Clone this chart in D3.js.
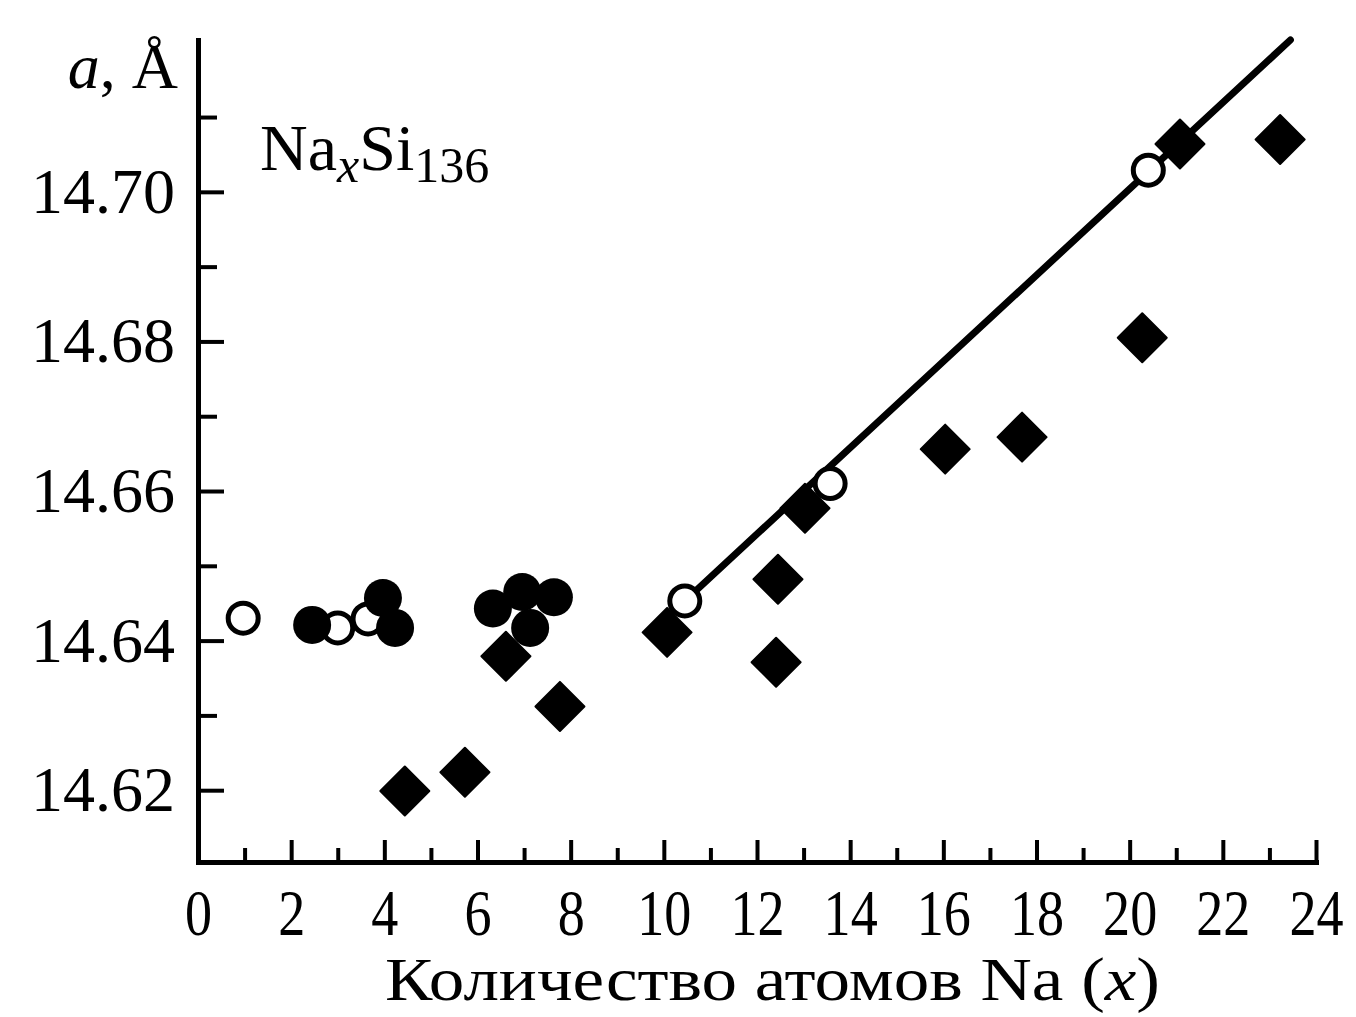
<!DOCTYPE html>
<html>
<head>
<meta charset="utf-8">
<script src="https://cdn.jsdelivr.net/npm/d3@7"></script>
<style>
  body { margin: 0; background: #fff; }
  svg text { font-family: "Liberation Serif", "Times New Roman", serif; fill: #000; }
</style>
</head>
<body>
<div id="chart"></div>
<script>
// open circles (on the fitted line and near x = 1..4)
var openX = [0.97, 3.0, 3.65, 10.45, 13.57, 20.4];
var openY = [14.643, 14.6417, 14.6429, 14.6453, 14.661, 14.7029];
// filled circles
var dotX = [2.45, 3.97, 4.23, 6.33, 6.96, 7.64, 7.13];
var dotY = [14.6421, 14.6457, 14.6417, 14.6443, 14.6465, 14.6458, 14.6417];
// filled diamonds
var diaX = [4.44, 5.73, 6.61, 7.77, 10.07, 12.45, 12.41, 13.03, 16.04, 17.69, 20.27, 21.08, 23.23];
var diaY = [14.6199, 14.6224, 14.6379, 14.6312, 14.6411, 14.6482, 14.6371, 14.6577, 14.6656, 14.6672, 14.6805, 14.7064, 14.707];
// straight line through the open circles
var fitX = [10.45, 23.45];
var fitY = [14.6453, 14.7203];
var xMajor = [0, 2, 4, 6, 8, 10, 12, 14, 16, 18, 20, 22, 24];
var xMinor = [1, 3, 5, 7, 9, 11, 13, 15, 17, 19, 21, 23];
var yMajor = [14.62, 14.64, 14.66, 14.68, 14.70];
var yMinor = [14.63, 14.65, 14.67, 14.69, 14.71];
var xTitle = "Количество атомов Na (", xTitleVar = "x", xTitleEnd = ")";

var width = 1356, height = 1017;
var svg = d3.select("#chart").append("svg")
    .attr("width", width)
    .attr("height", height);

var x = d3.scaleLinear().domain([0, 24]).range([198, 1316]);
var y = d3.scaleLinear().domain([14.6104, 14.7203]).range([862, 40]);

function pts(xs, ys) {
    return xs.map(function(v, i) { return {x: v, y: ys[i]}; });
}

// axes
var gx = svg.append("g").attr("transform", "translate(0,862)");
gx.call(d3.axisBottom(x).tickValues(xMajor).tickSizeInner(-22).tickSizeOuter(0).tickPadding(26)
    .tickFormat(d3.format("d")));
gx.append("g").call(d3.axisBottom(x).tickValues(xMinor).tickSizeInner(-14).tickSizeOuter(0).tickFormat(""))
    .select(".domain").remove();

var gy = svg.append("g").attr("transform", "translate(198,0)");
gy.call(d3.axisLeft(y).tickValues(yMajor).tickSizeInner(-26).tickSizeOuter(0).tickPadding(23)
    .tickFormat(d3.format(".2f")));
gy.append("g").call(d3.axisLeft(y).tickValues(yMinor).tickSizeInner(-19).tickSizeOuter(0).tickFormat(""))
    .select(".domain").remove();

svg.selectAll(".domain").attr("stroke", "#000").attr("stroke-width", 5).attr("stroke-linecap", "square");
svg.selectAll(".tick line").attr("stroke", "#000").attr("stroke-width", 4);
svg.selectAll(".tick text")
    .attr("font-family", "Liberation Serif")
    .attr("font-size", 64)
    .attr("fill", "#000");
gx.selectAll(".tick text").attr("transform", "scale(0.82,1)").attr("font-size", 66);

// diamonds
svg.selectAll(".dia")
    .data(pts(diaX, diaY))
  .enter().append("path")
    .attr("class", "dia")
    .attr("d", d3.symbol(d3.symbolSquare, 1200))
    .attr("transform", function(d) { return "translate(" + x(d.x) + "," + y(d.y) + ") rotate(45)"; })
    .attr("fill", "#000")
    .attr("stroke", "#000")
    .attr("stroke-width", 2)
    .attr("stroke-linejoin", "round");

// fitted line
svg.append("path")
    .datum(pts(fitX, fitY))
    .attr("fill", "none")
    .attr("stroke", "#000")
    .attr("stroke-width", 7)
    .attr("stroke-linecap", "round")
    .attr("d", d3.line().x(function(d) { return x(d.x); }).y(function(d) { return y(d.y); }));

// open circles
svg.selectAll(".open")
    .data(pts(openX, openY))
  .enter().append("circle")
    .attr("class", "open")
    .attr("cx", function(d) { return x(d.x); })
    .attr("cy", function(d) { return y(d.y); })
    .attr("r", 15)
    .attr("fill", "#fff")
    .attr("stroke", "#000")
    .attr("stroke-width", 5);

// filled circles
svg.selectAll(".dot")
    .data(pts(dotX, dotY))
  .enter().append("circle")
    .attr("class", "dot")
    .attr("cx", function(d) { return x(d.x); })
    .attr("cy", function(d) { return y(d.y); })
    .attr("r", 19)
    .attr("fill", "#000");

// y axis label
var yl = svg.append("text")
    .attr("x", 178)
    .attr("y", 88)
    .attr("text-anchor", "end")
    .attr("font-size", 64);
yl.append("tspan").attr("font-style", "italic").text("a");
yl.append("tspan").text(", Å");

// compound label
var cl = svg.append("text")
    .attr("x", 260)
    .attr("y", 170)
    .attr("font-size", 66);
cl.append("tspan").text("Na");
cl.append("tspan").attr("font-style", "italic").attr("font-size", 50).attr("dy", 12).text("x");
cl.append("tspan").attr("dy", -12).text("Si");
cl.append("tspan").attr("font-size", 50).attr("dy", 12).text("136");

// x axis title
var xt = svg.append("text")
    .attr("x", 385)
    .attr("y", 1000)
    .attr("font-size", 62)
    .attr("textLength", 775)
    .attr("lengthAdjust", "spacingAndGlyphs");
xt.append("tspan").text(xTitle);
xt.append("tspan").attr("font-style", "italic").text(xTitleVar);
xt.append("tspan").text(xTitleEnd);
</script>
</body>
</html>
